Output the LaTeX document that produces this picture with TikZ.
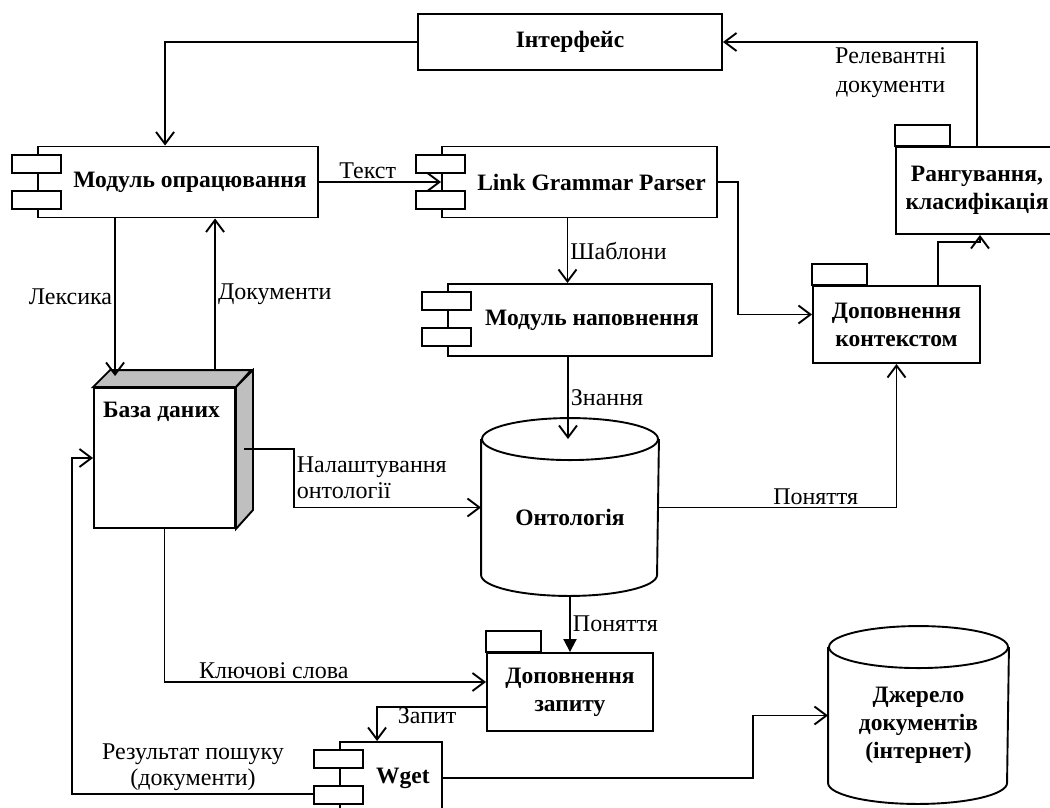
\documentclass[tikz,border=0pt]{standalone}
\usepackage{fontspec}
\setmainfont{Liberation Serif}
\usepackage{tikz}
\usetikzlibrary{positioning, calc}
\usetikzlibrary{arrows.meta}
\newcommand{\boxfont}{\fontsize{23.5}{28}\selectfont\bfseries}
\tikzstyle{box}  =
[
	draw,rectangle,fill=white,inner sep=2mm,font=\boxfont
]
\tikzstyle{compbox} =
[
	box, minimum height=71pt,
	execute at begin node={\hspace*{24pt}}
]
\tikzstyle{pkgbox} = [box, align=center]
\tikzstyle{dbbox} = [box, minimum width=141pt, minimum height=140pt]
\tikzstyle{cylbox} = [rectangle, inner sep=0pt, font=\boxfont, align=center]
\tikzstyle{lbl} = [font=\fontsize{24}{26}\selectfont, inner sep=2pt, align=center]
\tikzstyle{tab} = [draw, fill=white]
% cylinder outline round a node: name, x radius
\newcommand{\cylshape}[2]{%
	\draw (#1.north west) -- ($(#1.south west)+(0,-21)$)
		arc[start angle=180, end angle=0, x radius=#2, y radius=21] -- (#1.north east);
	\draw (#1.north) ellipse[x radius=#2, y radius=21];}

\begin{document}
\begin{tikzpicture}[x=1pt,y=-1pt,line width=1.9pt,>={Straight Barb[length=12pt,width=18pt]}]

\useasboundingbox (0,0) rectangle (1050,807);

\node[box, minimum width=304pt, minimum height=56pt] (iface) at (570,42) {Інтерфейс};
\node[compbox, minimum width=280pt] (opr) at (178,182) {Модуль опрацювання};
\node[compbox, minimum width=275pt] (parser) at (579.5,182) {Link Grammar Parser};
\node[compbox, minimum width=264pt, minimum height=72pt] (napov) at (580,320) {Модуль наповнення};
\node[compbox, minimum width=102pt, minimum height=72pt] (wget) at (391,778) {Wget};

\node[dbbox, label={[anchor=north west, inner sep=0pt, xshift=9pt, yshift=-14pt, font=\boxfont]north west:База даних}] (db) at (164.5,458) {};

\node[cylbox, minimum width=176pt, minimum height=155pt] (ont) at (570,517.5) {Онтологія};
\node[cylbox, minimum width=179pt, minimum height=155pt] (src) at (918.5,725.5) {Джерело\\документів\\(інтернет)};

\node[pkgbox, minimum width=167pt, minimum height=77pt] (konteks) at (896.5,324.5) {Доповнення\\контекстом};
\node[pkgbox, minimum width=162pt, minimum height=87pt] (rang) at (977,190.5) {Рангування,\\класифікація};
\node[pkgbox, minimum width=166pt, minimum height=78pt] (zapyt) at (570,692) {Доповнення\\запиту};

% component tabs, package tabs
\foreach \n in {opr, parser, napov, wget}
{
	\draw[tab] ([xshift=-25pt, yshift=-9pt]\n.north west) rectangle ++(49,18);
	\draw[tab] ([xshift=-25pt, yshift=-45pt]\n.north west) rectangle ++(49,18);
}
\foreach \n in {konteks, rang, zapyt}
	\draw[tab] (\n.north west) rectangle ++(55,-21);

% database box faces
\draw[tab, fill=gray!50] (db.north west) -- ++(17,-17) -- ++(141,0) -- (db.north east) -- cycle;
\draw[tab, fill=gray!50] (db.north east) -- ++(17,-17) -- ++(0,140) -- (db.south east) -- cycle;

\cylshape{ont}{88}
\cylshape{src}{89.5}

\draw[->] (iface.west) -| ([xshift=128pt]opr.north west);
\draw[->] (rang.north) |- node[lbl, below, pos=0.67, yshift=-3pt, font=\fontsize{24}{29}\selectfont] {Релевантні\\документи} (iface.east);
\draw[->] (opr.east) -- node[lbl, above, pos=0.4] {Текст} (parser.west);
\draw[->] (parser.east) -- ++(20,0) |- ([yshift=10pt]konteks.west);
\draw[->] ([xshift=-12pt]parser.south) -- node[lbl, right] {Шаблони} ([xshift=-12pt]parser.south |- napov.north);
\draw[->] ([xshift=-2pt]ont.north |- napov.south) -- node[lbl, right] {Знання} ([xshift=-2pt]ont.north);

\draw[->] ([xshift=78pt]opr.south west) -- node[lbl, left] {Лексика} ([xshift=78pt, yshift=11pt]opr.south west |- db.north);
\draw[->] ([xshift=178pt, yshift=17pt]opr.south west |- db.north) -- node[lbl, right] {Документи} ([xshift=178pt]opr.south west);

\draw[->] ([xshift=8pt, yshift=9pt]db.east) -- ++(50,0) |- node[lbl, right, pos=0.25, align=left] {Налаштування\\онтології} ([yshift=10pt]ont.west);
\draw[->] (db.south) |- node[lbl, above, pos=0.67] {Ключові слова} ([yshift=10pt]zapyt.west);

\draw[-{Triangle[length=13pt,width=13pt]}] (ont.south) -- node[lbl, right] {Поняття} (zapyt.north);
\draw[->] ([yshift=10pt]ont.east) -| node[lbl, above, pos=0.33] {Поняття} (konteks.south);
\draw[->] ([xshift=-43pt]konteks.north east) -- ++(0,-43) -| ([xshift=3pt]rang.south);

\draw[->] ([yshift=-15pt]zapyt.west) -| node[lbl, below, pos=0.27, inner sep=0pt] {Запит} ([xshift=38pt]wget.north west);
\draw[->] (wget.east) -- ++(310,0) |- ([yshift=10pt]src.west);
\draw[->] ([xshift=-25pt, yshift=-53pt]wget.north west) -- node[lbl, above] {Результат пошуку\\(документи)} ++(-242,0) |- (db.west);

\end{tikzpicture}
\end{document}
